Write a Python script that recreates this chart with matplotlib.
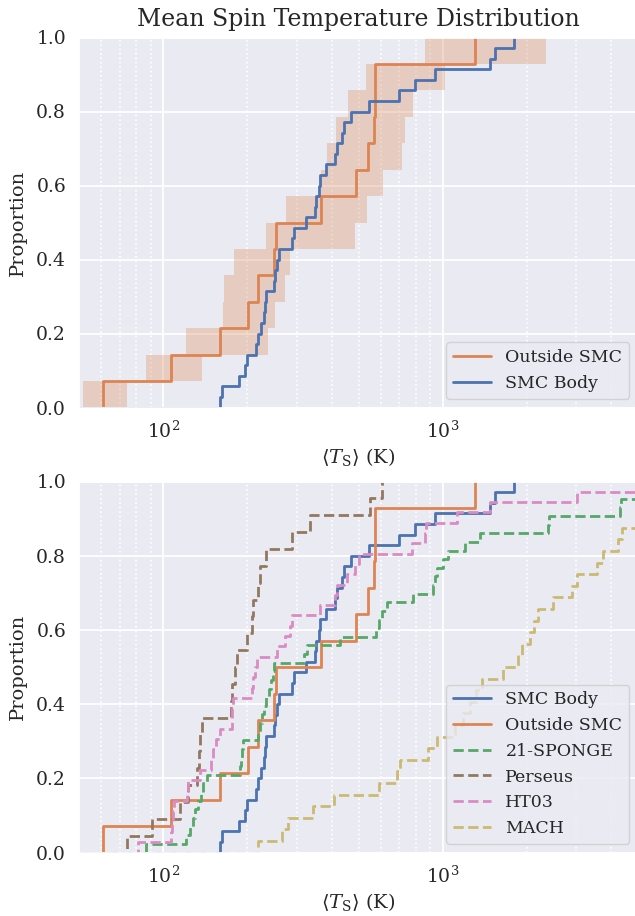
import numpy as np
import matplotlib
matplotlib.use("Agg")
import matplotlib.pyplot as plt
import seaborn as sns
from matplotlib.ticker import LogLocator, NullFormatter

sns.set_theme(style="darkgrid")
plt.rcParams['font.family'] = ['DejaVu Serif']
plt.rcParams['mathtext.fontset'] = 'dejavuserif'

# ---------------- data ----------------
smc_body = [160, 162, 186, 196, 199, 215, 219, 224, 229, 232, 234, 250, 252, 255,
            260, 289, 294, 324, 350, 352, 360, 365, 383, 413, 419, 436, 442, 471,
            546, 695, 798, 941, 1472, 1534, 1795]
outside_smc = [60.6, 106.5, 159, 200.6, 218, 250, 253, 367, 491, 539, 570, 571,
               572, 1303]
outside_lo = [51.6, 86.9, 120.5, 163.6, 165, 179.5, 234, 275.6, 368, 385, 415, 457,
              533, 866]
outside_hi = [74.1, 137.6, 237, 252, 273, 285, 487, 536, 610, 715, 735, 783,
              1023, 2334]
sponge = [87, 121, 125, 128, 130, 133, 136, 139, 143, 188, 189, 191, 193,
          219, 222, 226, 230, 234, 238, 243, 247, 250, 319, 326, 429,
          577, 590, 608, 631, 785, 920, 935, 952, 1005, 1047, 1202, 1360,
          2389, 2400, 4312, 4330, 6000, 8000]
perseus = [74.3, 90.9, 114.8, 122.9, 132.3, 134, 135.5, 137, 174, 176, 181, 184,
           199, 207, 209, 218, 221, 234, 289, 336, 550, 605]
ht03 = [81.4, 106.6, 107.5, 108.3, 109.2, 121.9, 123, 135, 148, 151, 155, 159.6,
        175.7, 176.5, 177.5, 207, 210, 213, 216, 255, 272, 284, 289, 364, 412, 420,
        453, 486, 503, 775, 864, 870, 1122, 1476, 3017, 7000]
mach = [219, 265, 280, 344, 408, 591, 684, 703, 888, 952, 1107, 1180, 1250, 1320,
        1379, 1649, 1866, 1917, 2053, 2120, 2198, 2489, 2895, 3017, 3557, 3758,
        4251, 4372, 5500, 6500, 8000, 10000]

pal = sns.color_palette("deep")
W, H = 635, 916
fig = plt.figure(figsize=(W / 100, H / 100), dpi=100)
ax1 = fig.add_axes([79.2 / W, (H - 407.5) / H, 558.8 / W, 370 / H])
ax2 = fig.add_axes([79.2 / W, (H - 852.5) / H, 558.8 / W, 371 / H])

LW = 2.0


def ecdf(ax, vals, **kw):
    v = np.sort(np.asarray(vals, float))
    n = len(v)
    x = np.concatenate([[1e-3], v])
    y = np.arange(n + 1) / n
    ax.plot(x, y, drawstyle='steps-post', **kw)


# top panel
n = len(outside_smc)
for i, (lo, hi) in enumerate(zip(outside_lo, outside_hi)):
    ax1.barh(i / n, hi - lo, left=lo, height=1 / n, align='edge',
             color=pal[1], alpha=0.3, linewidth=0)
ecdf(ax1, outside_smc, color=pal[1], lw=LW, label='Outside SMC')
ecdf(ax1, smc_body, color=pal[0], lw=LW, label='SMC Body')

# bottom panel
ecdf(ax2, smc_body, color=pal[0], lw=LW, label='SMC Body')
ecdf(ax2, outside_smc, color=pal[1], lw=LW, label='Outside SMC')
ecdf(ax2, sponge, color=pal[2], lw=LW, ls='--', label='21-SPONGE')
ecdf(ax2, perseus, color=pal[5], lw=LW, ls='--', label='Perseus')
ecdf(ax2, ht03, color=pal[6], lw=LW, ls='--', label='HT03')
ecdf(ax2, mach, color=pal[8], lw=LW, ls='--', label='MACH')

for ax in (ax1, ax2):
    ax.set_xscale('log')
    ax.set_xlim(50, 5000)
    ax.set_ylim(0, 1)
    ax.xaxis.set_minor_locator(LogLocator(base=10, subs=np.arange(2, 10)))
    ax.xaxis.set_minor_formatter(NullFormatter())
    ax.grid(which='major', color='white', linewidth=1.3)
    ax.grid(which='minor', axis='x', color='white', linestyle=':', linewidth=1.2)
    ax.tick_params(labelsize=13.5, pad=3.5)
    ax.set_xlabel(r'$\langle T_{\rm S}\rangle$ (K)', fontsize=14, labelpad=3)
    ax.set_ylabel('Proportion', fontsize=14, labelpad=6.5)
    ax.legend(loc='lower right', fontsize=12.5, handlelength=2.2)

ax1.set_title('Mean Spin Temperature Distribution', fontsize=17, pad=8)

fig.savefig('out.png', dpi=100)
